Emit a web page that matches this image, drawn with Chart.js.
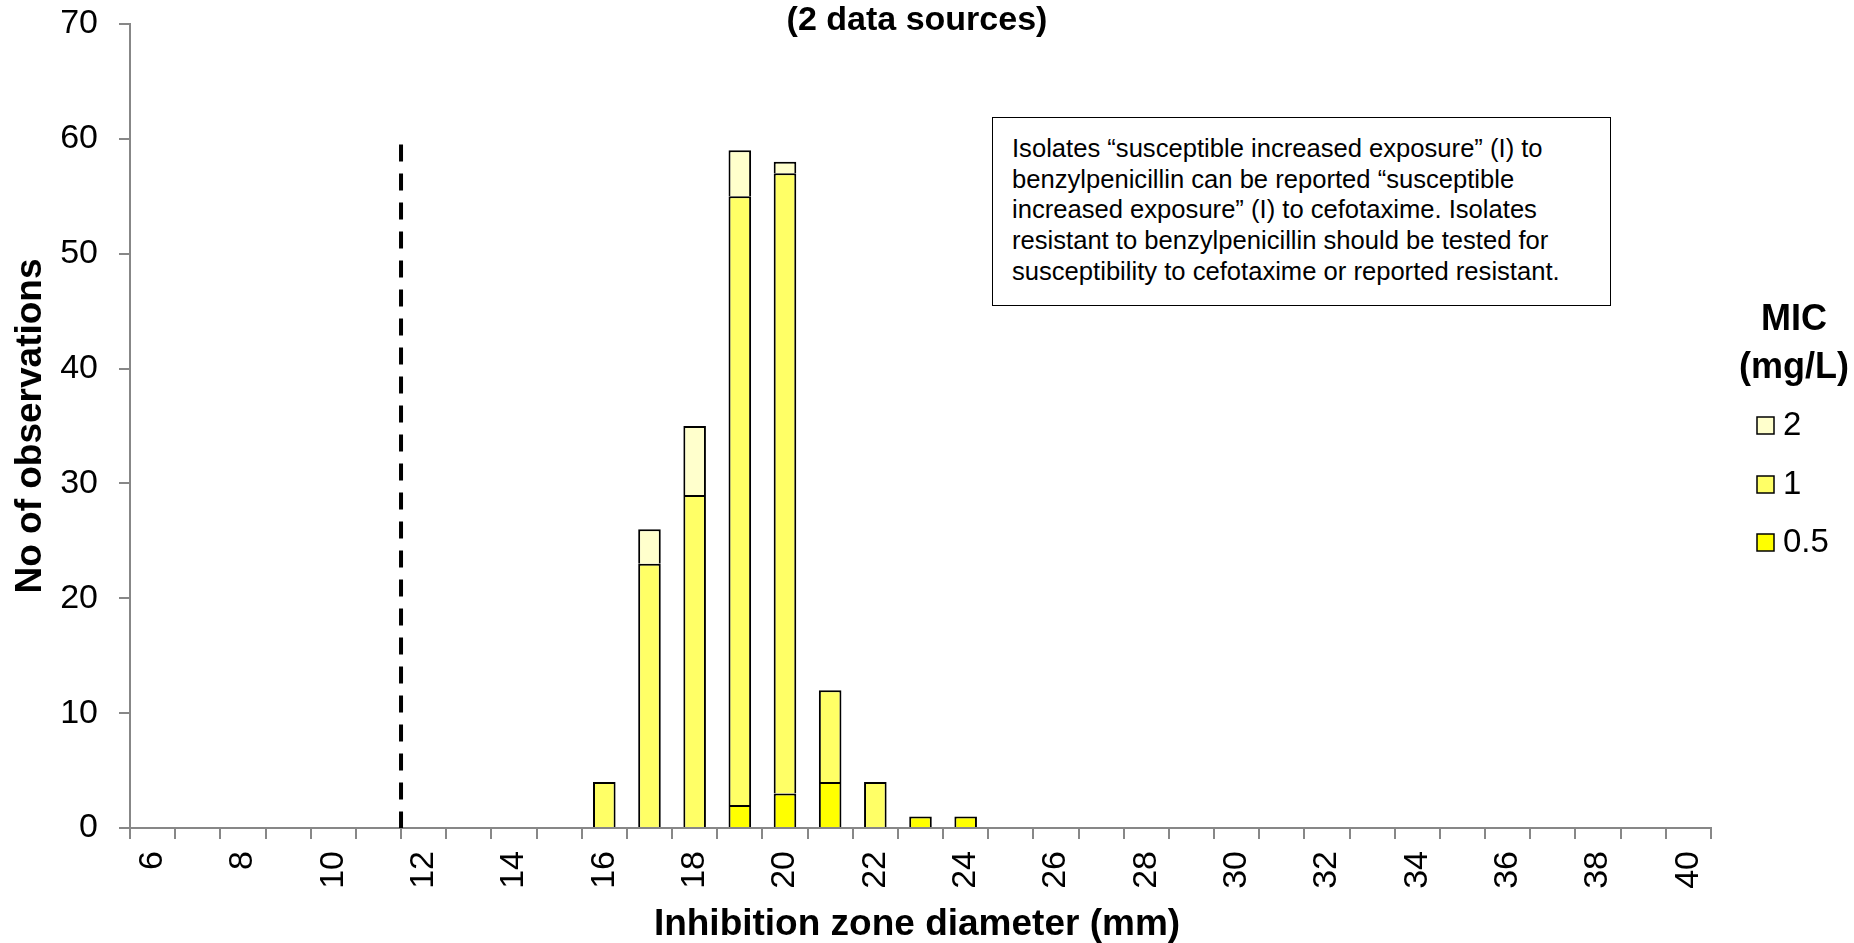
<!DOCTYPE html>
<html>
<head>
<meta charset="utf-8">
<title>Inhibition zone diameter distribution</title>
<script src="https://cdn.jsdelivr.net/npm/chart.js@4.4.0/dist/chart.umd.min.js"></script>
<style>
    html, body { margin: 0; padding: 0; background: #fff; }
    #wrap { position: relative; width: 1854px; height: 943px; }
    #note {
        position: absolute;
        left: 992px;
        top: 117px;
        width: 580px;
        height: 157px;
        padding: 15px 18px 15px 19px;
        border: 1.5px solid #000;
        background: #fff;
        font-family: "Liberation Sans", Arial, sans-serif;
        font-size: 25.6px;
        line-height: 30.7px;
        color: #000;
        white-space: nowrap;
    }
</style>
</head>
<body>
<div id="wrap">
    <canvas id="chart" width="1854" height="943"></canvas>
    <div id="note">Isolates “susceptible increased exposure” (I) to<br>benzylpenicillin can be reported “susceptible<br>increased exposure” (I) to cefotaxime. Isolates<br>resistant to benzylpenicillin should be tested for<br>susceptibility to cefotaxime or reported resistant.</div>
</div>
<script>
// Data
const zoneDiameters = [6, 7, 8, 9, 10, 11, 12, 13, 14, 15, 16, 17, 18, 19, 20, 21, 22, 23,
    24, 25, 26, 27, 28, 29, 30, 31, 32, 33, 34, 35, 36, 37, 38, 39, 40];

// counts per zone diameter, one array per MIC value (mg/L)
const mic05 = [null, null, null, null, null, null, null, null, null, null, null, null, null, 2, 3, 4, null, 1,
    1, null, null, null, null, null, null, null, null, null, null, null, null, null, null, null, null];
const mic1 = [null, null, null, null, null, null, null, null, null, null, 4, 23, 29, 53, 54, 8, 4, null,
    null, null, null, null, null, null, null, null, null, null, null, null, null, null, null, null, null];
const mic2 = [null, null, null, null, null, null, null, null, null, null, null, 3, 6, 4, 1, null, null, null,
    null, null, null, null, null, null, null, null, null, null, null, null, null, null, null, null, null];

const micLabels = ['0.5', '1', '2'];
const yTicks = [0, 10, 20, 30, 40, 50, 60, 70];

// zone diameter breakpoint (dashed line) and how high it reaches
const breakpoint = 11.5;
const breakpointTop = 59.5;

const FONT = '"Liberation Sans", Arial, sans-serif';
const AXIS_GREY = '#878787';

// extra drawing: breakpoint line, titles and MIC legend
const extrasPlugin = {
    id: 'extras',
    afterDatasetsDraw(chart) {
        const ctx = chart.ctx;
        const xScale = chart.scales.x;
        const yScale = chart.scales.y;
        const idx = breakpoint - zoneDiameters[0];
        const x = xScale.getPixelForValue(idx);
        ctx.save();
        ctx.strokeStyle = '#000';
        ctx.lineWidth = 4;
        ctx.setLineDash([17, 12]);
        ctx.beginPath();
        ctx.moveTo(x, yScale.getPixelForValue(breakpointTop));
        ctx.lineTo(x, yScale.getPixelForValue(0));
        ctx.stroke();
        ctx.restore();
    },
    afterDraw(chart) {
        const ctx = chart.ctx;
        const area = chart.chartArea;
        ctx.save();
        ctx.fillStyle = '#000';
        ctx.textAlign = 'center';
        ctx.textBaseline = 'middle';

        // chart title (only its second line is in view)
        ctx.font = 'bold 34px ' + FONT;
        ctx.fillText('(2 data sources)', 917, 21);

        // axis titles
        ctx.font = 'bold 37px ' + FONT;
        ctx.fillText('Inhibition zone diameter (mm)', 917, 925);
        ctx.save();
        ctx.translate(31, (area.top + area.bottom) / 2);
        ctx.rotate(-Math.PI / 2);
        ctx.fillText('No of observations', 0, 0);
        ctx.restore();

        // legend
        ctx.font = 'bold 36px ' + FONT;
        ctx.fillText('MIC', 1794, 320);
        ctx.fillText('(mg/L)', 1794, 368);

        const rows = [425, 484, 542];
        const order = chart.data.datasets.slice().reverse();
        ctx.textAlign = 'left';
        ctx.font = '33px ' + FONT;
        order.forEach(function(ds, i) {
            const y = rows[i];
            ctx.fillStyle = ds.backgroundColor;
            ctx.fillRect(1757, y - 8, 17, 17);
            ctx.strokeStyle = '#000';
            ctx.lineWidth = 1.5;
            ctx.strokeRect(1757, y - 8, 17, 17);
            ctx.fillStyle = '#000';
            ctx.fillText(ds.label, 1783, y + 1);
        });
        ctx.restore();
    }
};

const ctx = document.getElementById('chart').getContext('2d');
const chart = new Chart(ctx, {
    type: 'bar',
    data: {
        labels: zoneDiameters.map(String),
        datasets: [
            { label: micLabels[0], data: mic05, backgroundColor: '#FFFF00' },
            { label: micLabels[1], data: mic1, backgroundColor: '#FFFF66' },
            { label: micLabels[2], data: mic2, backgroundColor: '#FFFFCC' }
        ].map(function(ds) {
            return Object.assign(ds, {
                borderColor: '#000',
                borderWidth: 2,
                barPercentage: 0.5,
                categoryPercentage: 1.0
            });
        })
    },
    options: {
        responsive: false,
        animation: false,
        layout: { padding: { top: 24, right: 143, bottom: 0, left: 0 } },
        plugins: {
            legend: { display: false },
            title: { display: false },
            tooltip: { enabled: false }
        },
        scales: {
            x: {
                stacked: true,
                offset: true,
                grid: {
                    offset: true,
                    drawOnChartArea: false,
                    drawTicks: true,
                    tickLength: 11,
                    color: AXIS_GREY,
                    lineWidth: 2
                },
                border: { color: AXIS_GREY, width: 2 },
                ticks: {
                    autoSkip: false,
                    maxRotation: 90,
                    minRotation: 90,
                    padding: 12,
                    color: '#000',
                    font: { family: FONT, size: 34 },
                    callback: function(value, index) {
                        const d = zoneDiameters[index];
                        return d % 2 === 0 ? String(d) : '';
                    }
                },
                afterFit: function(scale) { scale.height = 115; }
            },
            y: {
                stacked: true,
                min: yTicks[0],
                max: yTicks[yTicks.length - 1],
                grid: {
                    drawOnChartArea: false,
                    drawTicks: true,
                    tickLength: 11,
                    color: AXIS_GREY,
                    lineWidth: 2
                },
                border: { color: AXIS_GREY, width: 2 },
                ticks: {
                    stepSize: 10,
                    padding: 21,
                    color: '#000',
                    font: { family: FONT, size: 34 }
                },
                afterFit: function(scale) {
                    scale.width = 130;
                    // the tick padding should not push the plot area down
                    scale.paddingTop = 0;
                    scale.paddingBottom = 0;
                }
            }
        }
    },
    plugins: [extrasPlugin]
});
</script>
</body>
</html>
